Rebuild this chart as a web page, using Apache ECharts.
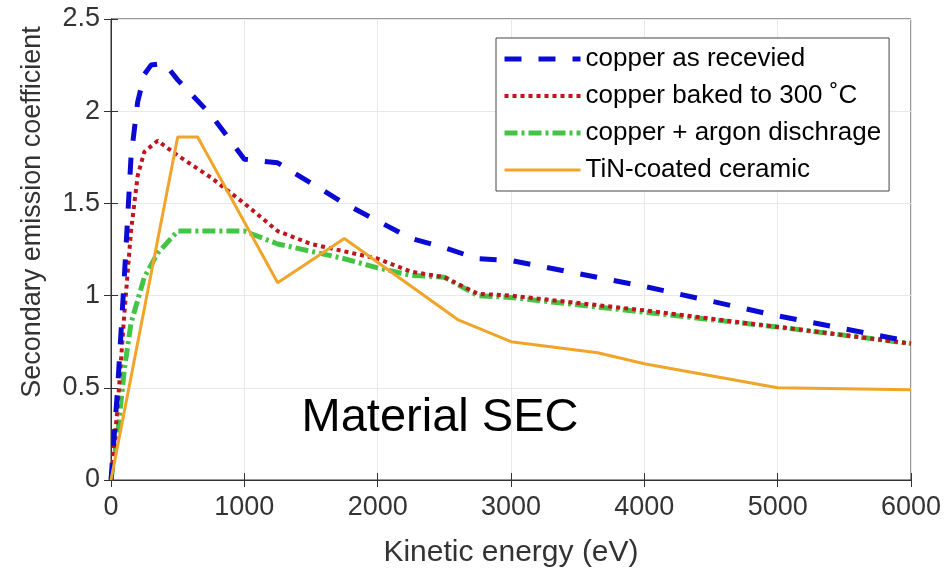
<!DOCTYPE html>
<html>
<head>
<meta charset="utf-8">
<script src="https://cdn.jsdelivr.net/npm/echarts@6/dist/echarts.min.js"></script>
<style>
  html, body { margin: 0; padding: 0; background: #fff; }
  #chart { width: 948px; height: 573px; }
</style>
</head>
<body>
<div id="chart"></div>
<script>
// energies (eV) and SEC values
var cuX = [0, 50, 100, 150, 200, 250, 300, 400, 500, 750, 1000, 1250, 1750, 2250, 2500, 2750, 3000, 4000, 5000, 6000];
var cuY = [0, 0.5, 1.1, 1.75, 2.05, 2.2, 2.25, 2.26, 2.17, 1.98, 1.74, 1.72, 1.5, 1.31, 1.26, 1.2, 1.19, 1.05, 0.89, 0.75];

var bakedX = [0, 50, 100, 150, 200, 250, 350, 500, 750, 1000, 1250, 1500, 2000, 2250, 2500, 2750, 3000, 4000, 5000, 6000];
var bakedY = [0, 0.4, 0.9, 1.35, 1.65, 1.78, 1.84, 1.76, 1.64, 1.5, 1.35, 1.28, 1.2, 1.13, 1.1, 1.01, 1.0, 0.92, 0.83, 0.74];

var argonX = [0, 50, 100, 150, 250, 350, 500, 1000, 1250, 1750, 2000, 2250, 2500, 2750, 3000, 4000, 5000, 6000];
var argonY = [0, 0.25, 0.6, 0.85, 1.1, 1.23, 1.35, 1.35, 1.28, 1.2, 1.15, 1.11, 1.1, 1.0, 0.99, 0.91, 0.83, 0.74];

var tinX = [0, 500, 650, 1250, 1750, 2600, 3000, 3650, 4000, 5000, 6000];
var tinY = [0, 1.86, 1.86, 1.07, 1.31, 0.87, 0.75, 0.69, 0.63, 0.5, 0.49];

var names = ['copper as recevied', 'copper baked to 300 \u02DAC', 'copper + argon dischrage', 'TiN-coated ceramic'];

function pairs(xs, ys) {
  return xs.map(function (x, i) { return [x, ys[i]]; });
}

var chart = echarts.init(document.getElementById('chart'));

var tickStyle = { inside: true, length: 7, lineStyle: { color: '#333' } };

var option = {
  animation: false,
  grid: { left: 111, right: 37, top: 19, bottom: 93, show: true, borderColor: '#333', borderWidth: 1 },
  legend: {
    orient: 'vertical',
    left: 496,
    top: 38,
    padding: [8, 8, 8, 6],
    itemWidth: 76,
    itemHeight: 14,
    itemGap: 11,
    itemStyle: { opacity: 0 },
    lineStyle: { width: 'inherit' },
    backgroundColor: '#fff',
    borderColor: '#444',
    borderWidth: 1,
    borderRadius: 0,
    textStyle: { fontFamily: 'Liberation Sans, Arial', fontSize: 26, color: '#000', lineHeight: 26 },
    data: names
  },
  xAxis: [{
    type: 'value', min: 0, max: 6000, interval: 1000,
    name: 'Kinetic energy (eV)', nameLocation: 'middle', nameGap: 58,
    nameTextStyle: { fontFamily: 'Liberation Sans, Arial', fontSize: 30, color: '#333' },
    axisLine: { lineStyle: { color: '#333' } },
    axisTick: tickStyle,
    axisLabel: { fontFamily: 'Liberation Sans, Arial', fontSize: 27, color: '#333', margin: 14,
      formatter: function (v) { return String(v); } },
    splitLine: { lineStyle: { color: '#e8e8e8' } }
  }, {
    type: 'value', min: 0, max: 6000, interval: 1000, position: 'top',
    axisLine: { show: true, lineStyle: { color: '#333' } },
    axisTick: tickStyle, axisLabel: { show: false }, splitLine: { show: false }
  }],
  yAxis: [{
    type: 'value', min: 0, max: 2.5, interval: 0.5,
    axisLine: { show: true, lineStyle: { color: '#333' } },
    axisTick: tickStyle,
    axisLabel: { fontFamily: 'Liberation Sans, Arial', fontSize: 27, color: '#333', margin: 11 },
    splitLine: { lineStyle: { color: '#e8e8e8' } }
  }, {
    type: 'value', min: 0, max: 2.5, interval: 0.5, position: 'right',
    axisLine: { show: true, lineStyle: { color: '#333' } },
    axisTick: tickStyle, axisLabel: { show: false }, splitLine: { show: false }
  }],
  graphic: [{
    type: 'text', x: 33, y: 212, rotation: Math.PI / 2,
    style: { text: 'Secondary emission coefficient', font: '27px "Liberation Sans", Arial', fill: '#333', align: 'center', verticalAlign: 'middle' }
  }, {
    type: 'text', x: 440, y: 418, z: 10,
    style: { text: 'Material SEC', font: '47px "Liberation Sans", Arial', fill: '#000', align: 'center', verticalAlign: 'middle' }
  }],
  series: [{
    name: names[0], type: 'line', symbol: 'none', z: 4,
    data: pairs(cuX, cuY),
    lineStyle: { color: '#0a0ad2', width: 5, type: [17, 17] },
    itemStyle: { color: '#0a0ad2' }
  }, {
    name: names[1], type: 'line', symbol: 'none', z: 3,
    data: pairs(bakedX, bakedY),
    lineStyle: { color: '#c0141e', width: 4, type: [4, 4] },
    itemStyle: { color: '#c0141e' }
  }, {
    name: names[2], type: 'line', symbol: 'none', z: 2,
    data: pairs(argonX, argonY),
    lineStyle: { color: '#44c444', width: 5, type: [13, 4, 3, 4] },
    itemStyle: { color: '#44c444' }
  }, {
    name: names[3], type: 'line', symbol: 'none', z: 5,
    data: pairs(tinX, tinY),
    lineStyle: { color: '#f0a52a', width: 3 },
    itemStyle: { color: '#f0a52a' }
  }]
};

chart.setOption(option);
</script>
</body>
</html>
